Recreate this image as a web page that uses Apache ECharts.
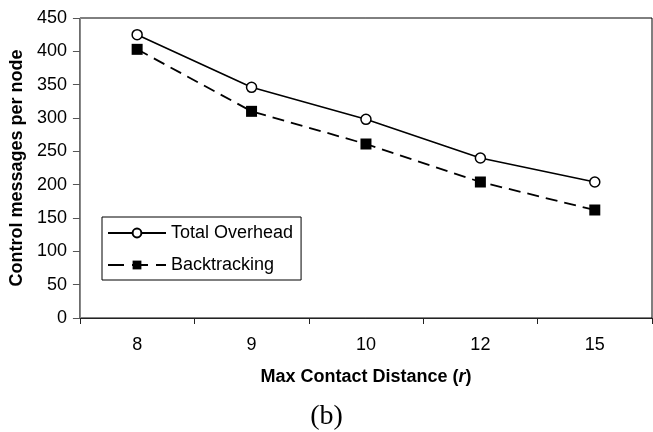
<!DOCTYPE html>
<html><head><meta charset="utf-8">
<script src="https://cdn.jsdelivr.net/npm/echarts@6/dist/echarts.min.js"></script>
<style>html,body{margin:0;padding:0;background:#fff}#c{width:653px;height:432px}</style>
</head><body><div id="c"></div>
<script>
const categories = ['8', '9', '10', '12', '15'];
const totalOverhead = [425, 346, 298, 240, 204];
const backtracking = [403, 310, 261, 204, 162];
const yTicks = { min: 0, max: 450, interval: 50 };

const chart = echarts.init(document.getElementById('c'), null, { renderer: 'canvas' });
const F = 'Liberation Sans, Arial, sans-serif';
chart.setOption({
  animation: false,
  backgroundColor: '#fff',
  grid: { left: 77, right: 1, top: 18, bottom: 114, show: true, borderColor: '#000', borderWidth: 1, containLabel: false },
  xAxis: {
    type: 'category', data: categories, boundaryGap: true,
    axisLine: { lineStyle: { color: '#222', width: 1 } },
    axisTick: { show: true, inside: false, length: 6, lineStyle: { color: '#222' } },
    axisLabel: { fontFamily: F, fontSize: 18, color: '#000', margin: 18 },
    name: '{a|Max Contact Distance (}{b|r}{a|)}',
    nameLocation: 'middle', nameGap: 50,
    nameTextStyle: { rich: {
      a: { fontFamily: F, fontSize: 18, fontWeight: 'bold', color: '#000' },
      b: { fontFamily: F, fontSize: 18, fontWeight: 'bold', fontStyle: 'italic', color: '#000' }
    } }
  },
  yAxis: {
    type: 'value', min: yTicks.min, max: yTicks.max, interval: yTicks.interval,
    splitLine: { show: false },
    axisLine: { show: true, lineStyle: { color: '#888', width: 1 } },
    axisTick: { show: true, length: 7, lineStyle: { color: '#555' } },
    axisLabel: { fontFamily: F, fontSize: 18, color: '#000', margin: 13 },
    name: 'Control messages per node', nameLocation: 'middle', nameGap: 50, nameRotate: 90,
    nameTextStyle: { fontFamily: F, fontSize: 18, fontWeight: 'bold', color: '#000' }
  },
  legend: {
    orient: 'vertical', left: 102, top: 217, padding: [7, 8, 6, 5], itemGap: 14,
    itemWidth: 58, itemHeight: 11,
    borderColor: '#000', borderWidth: 1, backgroundColor: '#fff',
    textStyle: { fontFamily: F, fontSize: 18, color: '#000' },
    data: [
      { name: 'Total Overhead' },
      { name: 'Backtracking', lineStyle: { type: [16, 8], width: 1.8 } }
    ]
  },
  series: [
    { name: 'Total Overhead', type: 'line', data: totalOverhead,
      symbol: 'circle', symbolSize: 10,
      itemStyle: { color: '#fff', borderColor: '#000', borderWidth: 1.5 },
      lineStyle: { color: '#000', width: 1.6, type: 'solid' } },
    { name: 'Backtracking', type: 'line', data: backtracking,
      symbol: 'rect', symbolSize: 11,
      itemStyle: { color: '#000', borderColor: '#000', borderWidth: 0 },
      lineStyle: { color: '#000', width: 1.8, type: [12, 7] } }
  ],
  graphic: [{
    type: 'text', left: 'center', top: 403,
    style: { text: '(b)', font: '28px "Liberation Serif", "Times New Roman", serif', fill: '#000' }
  }]
});
</script></body></html>
